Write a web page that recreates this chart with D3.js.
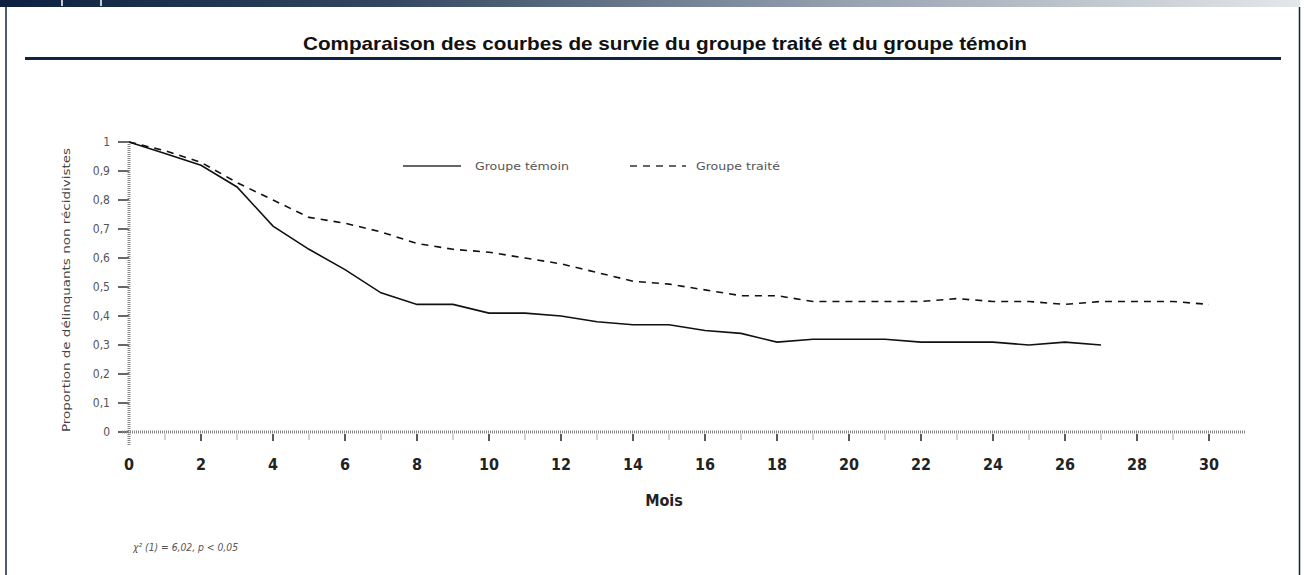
<!DOCTYPE html>
<html>
<head>
<meta charset="utf-8">
<script src="https://cdn.jsdelivr.net/npm/d3@7"></script>
<style>
  body { margin: 0; background: #fff; }
  svg { display: block; }
  .tick-y { font-family: 'DejaVu Sans', sans-serif; font-stretch: condensed; font-size: 12px; fill: #555; }
  .tick-x { font-family: 'DejaVu Sans', sans-serif; font-stretch: condensed; font-size: 16px; font-weight: bold; fill: #222; }
  .label { font-family: 'DejaVu Sans', sans-serif; font-stretch: condensed; font-size: 11px; fill: #555; }
</style>
</head>
<body>
<svg id="chart"></svg>
<script>
// chart size
const width = 1304;
const height = 575;

// data (months since release)
const months = d3.range(0, 31);
const temoin = [1.00, 0.96, 0.92, 0.845, 0.71, 0.63, 0.56, 0.48, 0.44, 0.44,
                0.41, 0.41, 0.40, 0.38, 0.37, 0.37, 0.35, 0.34, 0.31, 0.32,
                0.32, 0.32, 0.31, 0.31, 0.31, 0.30, 0.31, 0.30];
const traite = [1.00, 0.97, 0.93, 0.86, 0.80, 0.74, 0.72, 0.69, 0.65, 0.63,
                0.62, 0.60, 0.58, 0.55, 0.52, 0.51, 0.49, 0.47, 0.47, 0.45,
                0.45, 0.45, 0.45, 0.46, 0.45, 0.45, 0.44, 0.45, 0.45, 0.45, 0.44];

const yTicks = [0, 0.1, 0.2, 0.3, 0.4, 0.5, 0.6, 0.7, 0.8, 0.9, 1];
const xTicks = d3.range(0, 31, 2);

const title = 'Comparaison des courbes de survie du groupe traité et du groupe témoin';
const yTitle = 'Proportion de délinquants non récidivistes';
const xTitle = 'Mois';
const seriesNames = ['Groupe témoin', 'Groupe traité'];
const note = 'χ² (1) = 6,02, p < 0,05';

const navy = '#0f2442';

const svg = d3.select('#chart')
  .attr('width', width)
  .attr('height', height);

// top banner gradient + frame
const defs = svg.append('defs');
const grad = defs.append('linearGradient').attr('id', 'banner');
grad.append('stop').attr('offset', '0%').attr('stop-color', '#0c2140');
grad.append('stop').attr('offset', '30%').attr('stop-color', '#33475f');
grad.append('stop').attr('offset', '65%').attr('stop-color', '#97a2b0');
grad.append('stop').attr('offset', '100%').attr('stop-color', '#e4e7ea');

svg.append('rect').attr('x', 0).attr('y', 0).attr('width', 1300).attr('height', 7)
  .attr('fill', 'url(#banner)');
svg.append('rect').attr('x', 61).attr('y', 0).attr('width', 2).attr('height', 6).attr('fill', '#c8ccd2');
svg.append('rect').attr('x', 100).attr('y', 0).attr('width', 2).attr('height', 6).attr('fill', '#c8ccd2');

svg.append('line').attr('x1', 6).attr('x2', 6).attr('y1', 7).attr('y2', height)
  .attr('stroke', navy).attr('stroke-width', 1.5);
svg.append('line').attr('x1', 1299.5).attr('x2', 1299.5).attr('y1', 7).attr('y2', height)
  .attr('stroke', navy).attr('stroke-width', 1.5);

// title and rule
svg.append('text')
  .attr('x', 665).attr('y', 50)
  .attr('text-anchor', 'middle')
  .attr('textLength', 724)
  .attr('lengthAdjust', 'spacingAndGlyphs')
  .style('font-family', 'Liberation Sans, Arial, sans-serif')
  .style('font-weight', 'bold')
  .style('font-size', '19px')
  .style('fill', '#111')
  .text(title);
svg.append('rect').attr('x', 25).attr('y', 57).attr('width', 1256).attr('height', 3).attr('fill', navy);

// scales
const x = d3.scaleLinear().domain([0, 31]).range([129, 1245]);
const y = d3.scaleLinear().domain([0, 1]).range([432, 142]);

// axes
const yAxis = svg.append('g');
yAxis.selectAll('line.tk')
  .data(yTicks)
  .enter().append('line')
  .attr('x1', 118).attr('x2', 129)
  .attr('y1', d => y(d)).attr('y2', d => y(d))
  .attr('stroke', '#333').attr('stroke-width', 1.5);
yAxis.selectAll('text')
  .data(yTicks)
  .enter().append('text')
  .attr('class', 'tick-y')
  .attr('x', 110).attr('y', d => y(d)).attr('dy', '0.35em')
  .attr('text-anchor', 'end')
  .text(d => d3.format('.1f')(d).replace('.0', '').replace('.', ','));
yAxis.append('line')
  .attr('x1', 129).attr('x2', 129).attr('y1', y(1)).attr('y2', 445)
  .attr('stroke', '#888').attr('stroke-width', 3).attr('stroke-dasharray', '1,1');

const xAxis = svg.append('g');
xAxis.selectAll('line.minor')
  .data(months.filter(m => m % 2 === 1))
  .enter().append('line')
  .attr('x1', d => x(d)).attr('x2', d => x(d))
  .attr('y1', 434).attr('y2', 440)
  .attr('stroke', '#aaa').attr('stroke-width', 1);
xAxis.selectAll('line.major')
  .data(xTicks.filter(m => m > 0))
  .enter().append('line')
  .attr('x1', d => x(d)).attr('x2', d => x(d))
  .attr('y1', 434).attr('y2', 441)
  .attr('stroke', '#222').attr('stroke-width', 1.5);
xAxis.append('line')
  .attr('x1', 122).attr('x2', x(31)).attr('y1', y(0)).attr('y2', y(0))
  .attr('stroke', '#888').attr('stroke-width', 3).attr('stroke-dasharray', '1,1');
xAxis.selectAll('text')
  .data(xTicks)
  .enter().append('text')
  .attr('class', 'tick-x')
  .attr('x', d => x(d)).attr('y', 470)
  .attr('text-anchor', 'middle')
  .text(d => d);

svg.append('text')
  .attr('class', 'tick-x')
  .attr('x', 664).attr('y', 506)
  .attr('text-anchor', 'middle')
  .text(xTitle);

// y title, rotated
svg.append('g')
  .attr('transform', 'translate(70,290) rotate(-90)')
  .append('text')
  .attr('class', 'label')
  .attr('text-anchor', 'middle')
  .attr('textLength', 284)
  .attr('lengthAdjust', 'spacingAndGlyphs')
  .style('fill', '#444')
  .text(yTitle);

// survival curves
const line = d3.line()
  .x((d, i) => x(i))
  .y(d => y(d));

svg.append('path')
  .datum(temoin)
  .attr('d', line)
  .attr('fill', 'none')
  .attr('stroke', '#111')
  .attr('stroke-width', 1.6);

svg.append('path')
  .datum(traite)
  .attr('d', line)
  .attr('fill', 'none')
  .attr('stroke', '#111')
  .attr('stroke-width', 1.6)
  .attr('stroke-dasharray', '7,6');

// legend
const legend = svg.append('g');
legend.append('line').attr('x1', 403).attr('x2', 461).attr('y1', 166).attr('y2', 166)
  .attr('stroke', '#333').attr('stroke-width', 1.6);
legend.append('text').attr('class', 'label').attr('x', 475).attr('y', 170)
  .attr('textLength', 94).attr('lengthAdjust', 'spacingAndGlyphs').text(seriesNames[0]);
legend.append('line').attr('x1', 630).attr('x2', 686).attr('y1', 166).attr('y2', 166)
  .attr('stroke', '#333').attr('stroke-width', 1.6).attr('stroke-dasharray', '7,6');
legend.append('text').attr('class', 'label').attr('x', 696).attr('y', 170)
  .attr('textLength', 84).attr('lengthAdjust', 'spacingAndGlyphs').text(seriesNames[1]);

// footnote
svg.append('text')
  .attr('x', 133).attr('y', 551)
  .attr('textLength', 105)
  .attr('lengthAdjust', 'spacingAndGlyphs')
  .style('font-family', 'DejaVu Sans, sans-serif')
  .style('font-stretch', 'condensed')
  .style('font-size', '10px')
  .style('font-style', 'italic')
  .style('fill', '#555')
  .text(note);
</script>
</body>
</html>
